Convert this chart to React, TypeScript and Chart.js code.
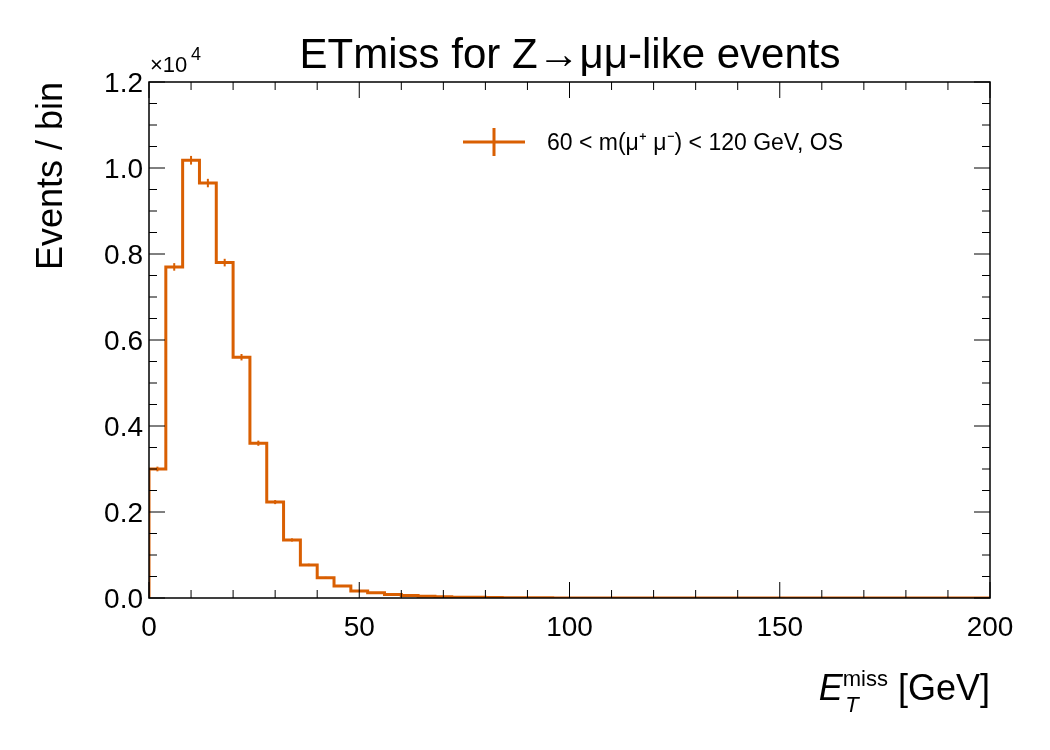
import { useEffect, useRef } from "react";
import { Chart, registerables } from "chart.js";

Chart.register(...registerables);

// 4 GeV bins, 0..200 GeV
const binEdges = Array.from({ length: 51 }, (_, i) => i * 4);
const counts = [
  3000, 7700, 10180, 9650, 7800, 5600, 3600, 2230, 1350, 770,
  470, 280, 160, 120, 80, 60, 40, 30, 20, 15,
  10, 6, 4, 3, 2, 1, 1, 0, 0, 0,
  0, 0, 0, 0, 0, 0, 0, 0, 0, 0,
  0, 0, 0, 0, 0, 0, 0, 0, 0, 0,
];
const xTicks = [0, 50, 100, 150, 200];
const yTicks = [0, 2000, 4000, 6000, 8000, 10000, 12000];

const COLOR = "#d95f02";
const FONT = "'Liberation Sans', Arial, sans-serif";

const hepPlugin = {
  id: "hep",
  afterDatasetsDraw(chart: any) {
    const { ctx, chartArea: a, scales } = chart;
    const xs = scales.x;
    const ys = scales.y;
    ctx.save();
    // error bars
    ctx.strokeStyle = COLOR;
    ctx.lineWidth = 2;
    counts.forEach((c, i) => {
      if (c <= 0) return;
      const e = Math.sqrt(c);
      const px = xs.getPixelForValue(binEdges[i] + 2);
      ctx.beginPath();
      ctx.moveTo(px, ys.getPixelForValue(c - e));
      ctx.lineTo(px, ys.getPixelForValue(c + e));
      ctx.stroke();
    });
    // frame and ticks
    ctx.strokeStyle = "#000";
    ctx.lineWidth = 1.5;
    ctx.strokeRect(a.left, a.top, a.right - a.left, a.bottom - a.top);
    ctx.lineWidth = 1;
    for (let v = 0; v <= 200; v += 10) {
      const px = xs.getPixelForValue(v);
      const len = v % 50 === 0 ? 16 : 8;
      ctx.beginPath();
      ctx.moveTo(px, a.bottom);
      ctx.lineTo(px, a.bottom - len);
      ctx.moveTo(px, a.top);
      ctx.lineTo(px, a.top + len);
      ctx.stroke();
    }
    for (let v = 0; v <= 12000; v += 500) {
      const py = ys.getPixelForValue(v);
      const len = v % 2000 === 0 ? 16 : 8;
      ctx.beginPath();
      ctx.moveTo(a.left, py);
      ctx.lineTo(a.left + len, py);
      ctx.moveTo(a.right, py);
      ctx.lineTo(a.right - len, py);
      ctx.stroke();
    }
    // text
    ctx.fillStyle = "#000";
    ctx.textBaseline = "alphabetic";
    ctx.font = `28px ${FONT}`;
    ctx.textAlign = "right";
    yTicks.forEach((v) => {
      ctx.fillText((v / 10000).toFixed(1), a.left - 6, ys.getPixelForValue(v) + 10);
    });
    ctx.textAlign = "center";
    xTicks.forEach((v) => {
      ctx.fillText(String(v), xs.getPixelForValue(v), a.bottom + 38);
    });
    ctx.textAlign = "left";
    ctx.font = `22px ${FONT}`;
    ctx.fillText("×10", 150, 72);
    ctx.font = `18px ${FONT}`;
    ctx.fillText("4", 191, 60);
    ctx.font = `42px ${FONT}`;
    ctx.textAlign = "center";
    ctx.fillText("ETmiss for Z\u2192\u03bc\u03bc-like events", 570, 68);
    // y title
    ctx.save();
    ctx.translate(62, a.top);
    ctx.rotate(-Math.PI / 2);
    ctx.textAlign = "right";
    ctx.font = `36px ${FONT}`;
    ctx.fillText("Events / bin", 0, 0);
    ctx.restore();
    // x title
    ctx.textAlign = "right";
    ctx.font = `36px ${FONT}`;
    ctx.fillText("[GeV]", a.right, 700);
    const w = ctx.measureText(" [GeV]").width;
    ctx.font = `22px ${FONT}`;
    const wm = ctx.measureText("miss").width;
    ctx.fillText("miss", a.right - w, 686);
    ctx.font = `italic 22px ${FONT}`;
    ctx.fillText("T", a.right - w - wm + 16, 712);
    ctx.font = `italic 36px ${FONT}`;
    ctx.fillText("E", a.right - w - wm, 700);
    // legend
    ctx.strokeStyle = COLOR;
    ctx.lineWidth = 3;
    ctx.beginPath();
    ctx.moveTo(463, 142);
    ctx.lineTo(525, 142);
    ctx.moveTo(494, 128);
    ctx.lineTo(494, 156);
    ctx.stroke();
    ctx.textAlign = "left";
    ctx.font = `23px ${FONT}`;
    ctx.fillText("60 < m(\u03bc\u207a \u03bc\u207b) < 120 GeV, OS", 547, 150);
    ctx.restore();
  },
};

export default function App() {
  const ref = useRef<HTMLCanvasElement>(null);

  useEffect(() => {
    if (!ref.current) return;
    document.body.style.margin = "0";
    // each point sits at a bin's right edge; the step rises at the left edge
    const pts = [{ x: 0, y: 0 }, ...counts.map((c, i) => ({ x: binEdges[i + 1], y: c }))];
    const chart = new Chart(ref.current, {
      type: "line",
      data: {
        datasets: [
          {
            data: pts,
            stepped: "after",
            borderColor: COLOR,
            borderWidth: 3,
            pointRadius: 0,
            fill: false,
          },
        ],
      },
      options: {
        animation: false,
        responsive: false,
        layout: { padding: { left: 0, top: 82, right: 60, bottom: 0 } },
        plugins: { legend: { display: false }, tooltip: { enabled: false } },
        scales: {
          x: {
            type: "linear",
            min: 0,
            max: 200,
            grid: { display: false },
            border: { display: false },
            ticks: { display: false },
            afterFit: (s: any) => { s.height = 152; },
          },
          y: {
            min: 0,
            max: 12000,
            grid: { display: false },
            border: { display: false },
            ticks: { display: false },
            afterFit: (s: any) => { s.width = 149; },
          },
        },
      },
      plugins: [hepPlugin],
    });
    return () => chart.destroy();
  }, []);

  return <canvas ref={ref} width={1050} height={750} style={{ display: "block" }} />;
}
